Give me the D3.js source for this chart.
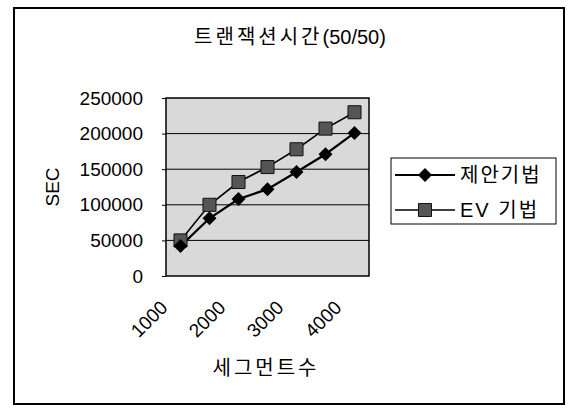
<!DOCTYPE html>
<html><head><meta charset="utf-8">
<script src="https://cdn.jsdelivr.net/npm/d3@7"></script>
<style>body{margin:0;background:#fff}svg{display:block}</style>
</head><body>
<script>
const categories = ["1000","1500","2000","2500","3000","3500","4000"];
const tickLabels = ["1000","2000","3000","4000"];
const yTicks = [0,50000,100000,150000,200000,250000];
const proposed = [42000,81000,108000,122000,146000,171000,201000];
const ev = [50000,100000,132000,153000,178000,207000,230000];
const seriesNames = ["제안기법","EV 기법"];

const W=569,H=411;
const font='"Liberation Sans","Noto Sans CJK KR",Arial,sans-serif';
const svg=d3.select("body").append("svg").attr("width",W).attr("height",H);
svg.append("rect").attr("x",0).attr("y",0).attr("width",W).attr("height",H).attr("fill","#fff");
// outer frame
svg.append("rect").attr("x",14).attr("y",8).attr("width",550).attr("height",396)
  .attr("fill","none").attr("stroke","#000").attr("stroke-width",2);

const L=166,R=369,T=98,B=276;
const x=d3.scalePoint().domain(categories).range([L,R]).padding(0.5);
const y=d3.scaleLinear().domain([0,250000]).range([B,T]);

// plot background
svg.append("rect").attr("x",L).attr("y",T).attr("width",R-L).attr("height",B-T)
  .attr("fill","#d9d9d9");
// gridlines
svg.append("g").selectAll("line").data(yTicks.slice(1,-1)).join("line")
  .attr("x1",L).attr("x2",R).attr("y1",d=>y(d)).attr("y2",d=>y(d))
  .attr("stroke","#000").attr("stroke-width",1);
svg.append("rect").attr("x",L).attr("y",T).attr("width",R-L).attr("height",B-T)
  .attr("fill","none").attr("stroke","#000").attr("stroke-width",1.5);

// y axis
const ya=svg.append("g").attr("transform",`translate(${L},0)`)
  .call(d3.axisLeft(y).tickValues(yTicks).tickSize(4).tickPadding(19).tickFormat(d3.format("d")));
ya.select(".domain").remove();
ya.selectAll("text").attr("font-family",font).attr("font-size",19).attr("fill","#000");

// x axis
const xa=svg.append("g").attr("transform",`translate(0,${B})`)
  .call(d3.axisBottom(x).tickValues(tickLabels).tickSize(0));
xa.select(".domain").remove();
xa.selectAll("text").attr("font-family",font).attr("font-size",19).attr("fill","#000")
  .attr("x",0).attr("y",0).attr("dy","0.35em").attr("text-anchor","end")
  .attr("transform","translate(-17,28) rotate(-45)");

// lines
const line=d3.line().x((d,i)=>x(categories[i])).y(d=>y(d));
svg.append("path").datum(ev).attr("d",line).attr("fill","none").attr("stroke","#000").attr("stroke-width",1.6);
svg.append("path").datum(proposed).attr("d",line).attr("fill","none").attr("stroke","#000").attr("stroke-width",2.2);

const sq=d3.symbol().type(d3.symbolSquare).size(170);
const dm=d3.symbol().type(d3.symbolDiamond2).size(125);
svg.append("g").selectAll("path").data(ev).join("path")
  .attr("d",sq).attr("transform",(d,i)=>`translate(${x(categories[i])},${y(d)})`)
  .attr("fill","#555").attr("stroke","#111").attr("stroke-width",1);
svg.append("g").selectAll("path").data(proposed).join("path")
  .attr("d",dm).attr("transform",(d,i)=>`translate(${x(categories[i])},${y(d)})`)
  .attr("fill","#000");

// title
const t=svg.append("text").attr("x",290).attr("y",37).attr("dy","0.35em").attr("text-anchor","middle")
  .attr("font-family",font).attr("font-size",20).attr("fill","#000");
t.append("tspan").attr("letter-spacing","3px").text("트랜잭션시간");
t.append("tspan").text("(50/50)");

// axis titles
svg.append("text").attr("transform","translate(52,187) rotate(-90)").attr("dy","0.35em")
  .attr("text-anchor","middle").attr("font-family",font).attr("font-size",19).text("SEC");
svg.append("text").attr("x",266).attr("y",368).attr("dy","0.35em").attr("text-anchor","middle")
  .attr("font-family",font).attr("font-size",20).attr("letter-spacing","3px").text("세그먼트수");

// legend
svg.append("rect").attr("x",391).attr("y",158).attr("width",165).attr("height",66)
  .attr("fill","#fff").attr("stroke","#000").attr("stroke-width",1);
const ly=[175,210];
[dm,sq].forEach((sym,i)=>{
  svg.append("line").attr("x1",395).attr("x2",455).attr("y1",ly[i]).attr("y2",ly[i])
    .attr("stroke","#000").attr("stroke-width",i===0?2.2:1.6);
  svg.append("path").attr("d",sym).attr("transform",`translate(425,${ly[i]})`)
    .attr("fill",i===0?"#000":"#555").attr("stroke",i===0?"none":"#111");
  svg.append("text").attr("x",460).attr("y",ly[i]).attr("dy","0.35em")
    .attr("font-family",font).attr("font-size",20).attr("letter-spacing","2px").text(seriesNames[i]);
});
</script>
</body></html>
